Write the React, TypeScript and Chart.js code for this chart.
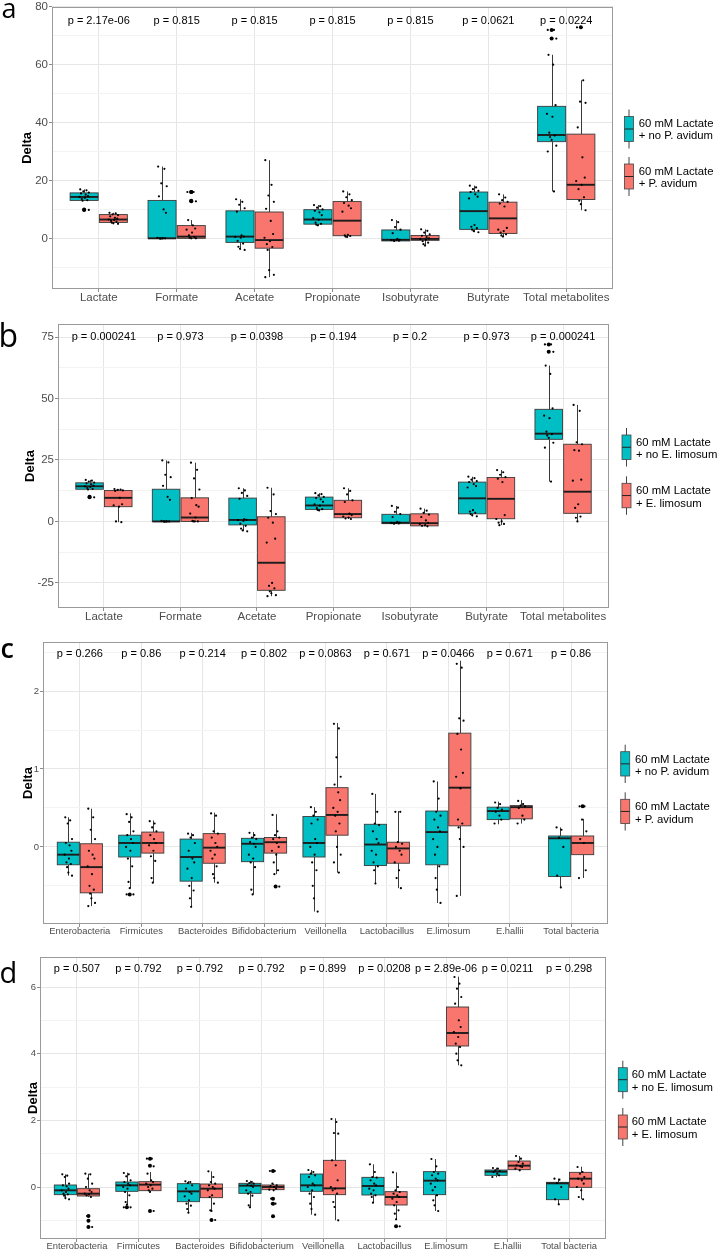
import React, { useEffect, useRef } from 'react';
import { Chart, registerables } from 'chart.js';

Chart.register(...registerables);

const TEAL = '#00BFC4';
const RED = '#F8766D';
const FONT = "'Liberation Sans', Arial, Helvetica, sans-serif";

// ---------- categories ----------
const METAB_CATS = ['Lactate', 'Formate', 'Acetate', 'Propionate', 'Isobutyrate', 'Butyrate', 'Total metabolites'];
const BACT_CATS = ['Enterobacteria', 'Firmicutes', 'Bacteroides', 'Bifidobacterium', 'Veillonella', 'Lactobacillus', 'E.limosum', 'E.hallii', 'Total bacteria'];

// ---------- p-value labels ----------
const P_A = ['p = 2.17e-06', 'p = 0.815', 'p = 0.815', 'p = 0.815', 'p = 0.815', 'p = 0.0621', 'p = 0.0224'];
const P_B = ['p = 0.000241', 'p = 0.973', 'p = 0.0398', 'p = 0.194', 'p = 0.2', 'p = 0.973', 'p = 0.000241'];
const P_C = ['p = 0.266', 'p = 0.86', 'p = 0.214', 'p = 0.802', 'p = 0.0863', 'p = 0.671', 'p = 0.0466', 'p = 0.671', 'p = 0.86'];
const P_D = ['p = 0.507', 'p = 0.792', 'p = 0.792', 'p = 0.792', 'p = 0.899', 'p = 0.0208', 'p = 2.89e-06', 'p = 0.0211', 'p = 0.298'];

// ---------- y ticks ----------
const A_MAJOR = [0, 20, 40, 60, 80];
const A_MINOR = [-10, 10, 30, 50, 70];
const B_MAJOR = [-25, 0, 25, 50, 75];
const B_MINOR = [-12.5, 12.5, 37.5, 62.5];
const C_MAJOR = [0, 1, 2];
const C_MINOR = [-0.5, 0.5, 1.5, 2.5];
const D_MAJOR = [0, 2, 4, 6];
const D_MINOR = [-1, 1, 3, 5];

// ---------- box statistics: [lower whisker, q1, median, q3, upper whisker] ----------
// metabolites, control (60 mM Lactate, no bacterium added) - shared by a and b
const METAB_CTRL_STATS = [
  [13.0, 13.1, 14.3, 15.7, 16.9],
  [0, 0, 0, 13.1, 24.8],
  [-4.0, -1.4, 0.6, 9.5, 13.5],
  [4.5, 4.9, 6.5, 9.9, 11.5],
  [-0.9, -0.9, -0.5, 2.9, 6.3],
  [2.1, 3.1, 9.4, 16.0, 18.2],
  [16.2, 33.4, 35.7, 45.6, 63.4],
];
const METAB_CTRL_OUTLIERS = [[9.8, 10.0], [], [], [], [], [], [69, 72]];
const METAB_CTRL_POINTS = [
  [16.9, 16.6, 16.2, 15.8, 15.5, 15.1, 14.6, 14.3, 14.0, 13.6, 13.2, 13.0, 10.0, 9.8],
  [24.8, 24.0, 19.0, 18.0, 14.5, 10.0, 8.8, 0.2, 0, 0, 0, -0.1, 0],
  [13.5, 12.6, 11.6, 10.4, 9.2, 1.0, 0.6, 0.5, 0.2, -0.9, -1.8, -2.9, -3.6, -4.0],
  [11.5, 11.1, 10.6, 10.0, 9.5, 9.0, 8.0, 7.0, 6.4, 5.4, 5.0, 4.7, 4.5],
  [6.3, 5.6, 3.9, 3.0, 1.8, -0.2, -0.5, -0.6, -0.6, -0.7, -0.8, -0.9],
  [18.2, 17.6, 17.0, 16.4, 16.0, 15.2, 14.4, 13.8, 4.6, 4.0, 3.5, 3.0, 2.5, 2.1],
  [72, 72, 69, 69, 63.4, 60, 46, 43, 42, 36.5, 35.5, 35, 34, 32, 30, 16.2],
];

// metabolites + P. avidum (panel a)
const A_TRT_STATS = [
  [5.0, 5.5, 6.5, 8.2, 8.8],
  [0, 0, 0.6, 4.4, 6.3],
  [-13.4, -3.4, -0.6, 9.1, 27.0],
  [0.5, 0.9, 6.1, 12.7, 16.2],
  [-2.5, -0.7, -0.2, 1.0, 3.1],
  [0.6, 1.7, 6.9, 12.5, 15.2],
  [9.7, 13.4, 18.5, 36.0, 54.6],
];
const A_TRT_OUTLIERS = [[], [12.8, 13.0, 16.0, 16.0], [], [], [], [], [72.9]];
const A_TRT_POINTS = [
  [8.8, 8.6, 8.3, 8.0, 7.6, 7.1, 6.8, 6.5, 6.3, 6.0, 5.7, 5.4, 5.2, 5.0],
  [16.0, 16.0, 13.0, 12.8, 6.3, 4.5, 3.4, 3.0, 2.0, 1.0, 0.5, 0.2, 0, 0],
  [27.0, 18.5, 14.8, 12.6, 10.2, 6.0, 1.5, 0.2, -1.0, -2.0, -3.0, -4.0, -11.0, -12.6, -13.4],
  [16.2, 15.2, 14.2, 13.2, 12.2, 11.3, 10.4, 9.2, 1.2, 1.0, 0.8, 0.6, 0.5],
  [3.1, 2.6, 2.0, 1.4, 0.9, 0.4, 0.0, -0.2, -0.5, -1.0, -1.5, -2.0, -2.5],
  [15.2, 14.1, 13.2, 12.6, 12.0, 11.0, 3.6, 3.0, 2.5, 2.0, 1.4, 1.0, 0.6],
  [72.9, 54.6, 47.2, 46.8, 38.3, 28.0, 21.0, 19.8, 18.5, 17.0, 14.2, 13.0, 11.8, 9.7],
];

// metabolites + E. limosum (panel b)
const B_TRT_STATS = [
  [-0.3, 6.0, 9.6, 12.6, 13.2],
  [0, 0, 1.6, 9.6, 23.9],
  [-30.4, -28.0, -16.8, 1.9, 13.7],
  [1.0, 1.5, 3.0, 8.6, 13.5],
  [-2.0, -1.8, -0.7, 3.1, 5.2],
  [-1.5, 1.1, 9.2, 17.9, 20.9],
  [0, 3.3, 12.1, 31.4, 47.4],
];
const B_TRT_OUTLIERS = [[], [], [], [], [], [], []];
const B_TRT_POINTS = [
  [13.2, 13.0, 12.8, 12.6, 12.4, 9.6, 7.0, 6.5, 6.0, 0.0, -0.3],
  [23.9, 21.0, 17.5, 13.0, 9.5, 6.6, 6.0, 3.2, 1.6, 0.2, 0, 0, 0],
  [13.7, 11.0, 4.2, 3.0, 1.5, -0.5, -7.0, -8.6, -25.0, -26.2, -27.2, -28.4, -29.2, -30.0, -30.4],
  [13.5, 12.4, 11.0, 8.6, 7.9, 3.2, 2.6, 2.0, 1.6, 1.2, 1.0],
  [5.2, 4.4, 3.5, 2.8, 1.8, 0.4, -0.6, -1.0, -1.5, -1.8, -2.0],
  [20.9, 20.0, 19.0, 18.0, 17.4, 16.0, 2.6, 1.0, 0.0, -0.5, -1.0, -1.5],
  [47.4, 45.0, 32.2, 31.4, 29.0, 28.8, 17.0, 16.6, 7.0, 5.5, 2.0, 1.5, 0],
];

// bacteria, control - shared by c and d
const BACT_CTRL_STATS = [
  [-0.37, -0.23, -0.10, 0.06, 0.38],
  [-0.53, -0.13, 0.05, 0.15, 0.43],
  [-0.77, -0.44, -0.13, 0.10, 0.18],
  [-0.61, -0.19, 0.04, 0.11, 0.19],
  [-0.83, -0.13, 0.05, 0.39, 0.51],
  [-0.47, -0.24, 0.03, 0.29, 0.68],
  [-0.72, -0.23, 0.19, 0.46, 0.84],
  [0.29, 0.35, 0.46, 0.51, 0.58],
  [-0.52, -0.38, 0.11, 0.14, 0.25],
];
const BACT_CTRL_OUTLIERS = [[], [-0.61], [], [], [], [], [], [], []];
const BACT_CTRL_POINTS = [
  [0.38, 0.34, 0.30, 0.10, 0.05, 0.02, -0.05, -0.10, -0.15, -0.20, -0.22, -0.26, -0.33, -0.37],
  [0.42, 0.38, 0.32, 0.20, 0.15, 0.10, 0.05, 0.0, -0.05, -0.15, -0.25, -0.45, -0.53, -0.61, -0.61],
  [0.17, 0.15, 0.12, 0.05, -0.05, -0.15, -0.20, -0.28, -0.40, -0.50, -0.56, -0.66, -0.77],
  [0.18, 0.15, 0.12, 0.10, 0.06, 0.04, 0.0, -0.10, -0.15, -0.20, -0.26, -0.55, -0.61],
  [0.51, 0.45, 0.40, 0.35, 0.30, 0.10, 0.05, 0.0, -0.10, -0.20, -0.30, -0.50, -0.66, -0.83],
  [0.68, 0.45, 0.30, 0.28, 0.20, 0.10, 0.05, -0.05, -0.10, -0.20, -0.25, -0.30, -0.47],
  [0.84, 0.62, 0.45, 0.40, 0.35, 0.25, 0.20, 0.10, 0.0, -0.10, -0.25, -0.40, -0.55, -0.72],
  [0.57, 0.55, 0.50, 0.48, 0.45, 0.40, 0.35, 0.30],
  [0.25, 0.22, 0.12, 0.0, -0.37, -0.52],
];

// bacteria + P. avidum (panel c)
const C_TRT_STATS = [
  [-0.76, -0.59, -0.26, 0.04, 0.49],
  [-0.46, -0.08, 0.05, 0.19, 0.34],
  [-0.46, -0.21, -0.01, 0.17, 0.44],
  [-0.35, -0.08, 0.06, 0.12, 0.42],
  [-0.33, 0.15, 0.41, 0.76, 1.59],
  [-0.53, -0.21, -0.02, 0.06, 0.46],
  [-0.63, 0.27, 0.76, 1.46, 2.39],
  [0.30, 0.36, 0.51, 0.53, 0.60],
  [-0.40, -0.10, 0.05, 0.14, 0.36],
];
const C_TRT_OUTLIERS = [[], [], [], [-0.51], [], [], [], [], [0.52]];
const C_TRT_POINTS = [
  [0.49, 0.38, 0.22, 0.10, -0.05, -0.10, -0.15, -0.25, -0.35, -0.50, -0.55, -0.60, -0.66, -0.72, -0.76],
  [0.33, 0.30, 0.25, 0.20, 0.15, 0.10, 0.05, 0.02, -0.05, -0.12, -0.18, -0.40, -0.46],
  [0.43, 0.40, 0.20, 0.17, 0.12, 0.05, 0.0, -0.05, -0.10, -0.15, -0.25, -0.35, -0.40, -0.46],
  [0.41, 0.20, 0.15, 0.12, 0.10, 0.05, 0.0, -0.05, -0.10, -0.20, -0.30, -0.35, -0.51, -0.51],
  [1.58, 1.52, 1.15, 0.90, 0.80, 0.70, 0.60, 0.50, 0.45, 0.40, 0.30, 0.20, 0.0, -0.10, -0.20, -0.33],
  [0.45, 0.45, 0.06, 0.04, 0.0, -0.05, -0.10, -0.20, -0.30, -0.40, -0.53],
  [2.35, 2.30, 1.65, 1.62, 1.45, 1.25, 0.95, 0.90, 0.75, 0.35, 0.30, 0.25, 0.10, 0.0, -0.63],
  [0.59, 0.55, 0.53, 0.52, 0.50, 0.40, 0.35, 0.30],
  [0.52, 0.52, 0.35, 0.20, 0.10, 0.05, -0.30, -0.40],
];

// bacteria + E. limosum (panel d)
const D_TRT_STATS = [
  [-0.30, -0.27, -0.20, -0.05, 0.40],
  [-0.15, -0.11, 0.07, 0.16, 0.45],
  [-0.72, -0.32, -0.05, 0.09, 0.47],
  [-0.12, -0.08, 0.0, 0.06, 0.10],
  [-1.0, -0.23, -0.04, 0.80, 2.06],
  [-0.97, -0.54, -0.30, -0.14, 0.44],
  [3.65, 4.23, 4.62, 5.40, 6.31],
  [0.50, 0.52, 0.64, 0.78, 0.93],
  [-0.37, -0.01, 0.25, 0.44, 0.61],
];
const D_TRT_OUTLIERS = [[-0.87, -1.01, -1.20], [0.85, 0.64, -0.72], [-0.99], [0.48, -0.35, -0.50, -0.88], [], [-1.18], [], [], []];
const D_TRT_POINTS = [
  [0.40, 0.38, 0.25, 0.10, 0.0, -0.10, -0.15, -0.20, -0.22, -0.25, -0.30, -0.87, -1.01, -1.20],
  [0.85, 0.85, 0.64, 0.62, 0.40, 0.20, 0.15, 0.10, 0.05, 0.0, -0.05, -0.10, -0.15, -0.72],
  [0.47, 0.30, 0.15, 0.10, 0.05, 0.0, -0.05, -0.10, -0.25, -0.30, -0.50, -0.70, -0.72, -0.99],
  [0.48, 0.48, 0.10, 0.05, 0.03, 0.0, -0.05, -0.08, -0.10, -0.35, -0.50, -0.50, -0.88],
  [2.04, 1.95, 1.62, 1.60, 0.80, 0.65, 0.20, 0.0, -0.05, -0.10, -0.20, -0.45, -0.60, -1.0],
  [0.44, 0.0, -0.10, -0.15, -0.20, -0.25, -0.30, -0.35, -0.45, -0.55, -0.70, -0.80, -0.97, -1.18],
  [6.30, 6.10, 5.95, 5.70, 5.50, 5.00, 4.80, 4.65, 4.50, 4.30, 4.20, 4.00, 3.80, 3.65],
  [0.93, 0.85, 0.75, 0.70, 0.65, 0.62, 0.60, 0.55, 0.50],
  [0.60, 0.45, 0.40, 0.30, 0.25, 0.20, 0.10, 0.0, -0.10, -0.30, -0.37],
];

const LEGEND_PA = [['60 mM Lactate', '+ no P. avidum'], ['60 mM Lactate', '+ P. avidum']];
const LEGEND_EL = [['60 mM Lactate', '+ no E. limosum'], ['60 mM Lactate', '+ E. limosum']];

// ---------- drawing constants (style, not data) ----------
const GROUP_SHIFT = 0.1875;
const BOX_HALF = 0.18;
const JITTER = [-0.05, 0.03, -0.01, 0.06, -0.04, 0.02, 0.05, -0.06, 0.01, -0.03, 0.04, -0.02, 0.0, 0.06, -0.05, 0.03, -0.04];

type Group = { stats: number[][]; points: number[][]; outliers: number[][] };
type PanelCfg = {
  key: string;
  top: number;
  height: number;
  area: { left: number; right: number; top: number; bottom: number };
  cats: string[];
  pLabels: string[];
  pY: number;
  yMin: number;
  yMax: number;
  major: number[];
  minor: number[];
  ctrl: Group;
  trt: Group;
  tickSize: number;
  catSize: number;
  deltaX: number;
};

const PANELS: PanelCfg[] = [
  {
    key: 'a', top: 0, height: 311,
    area: { left: 52, right: 613, top: 5, bottom: 289 },
    cats: METAB_CATS, pLabels: P_A, pY: 75.2, yMin: -17.5, yMax: 80,
    major: A_MAJOR, minor: A_MINOR,
    ctrl: { stats: METAB_CTRL_STATS, points: METAB_CTRL_POINTS, outliers: METAB_CTRL_OUTLIERS },
    trt: { stats: A_TRT_STATS, points: A_TRT_POINTS, outliers: A_TRT_OUTLIERS },
    tickSize: 11.5, catSize: 11.5, deltaX: 27.5,
  },
  {
    key: 'b', top: 311, height: 320,
    area: { left: 58, right: 609, top: 13, bottom: 297 },
    cats: METAB_CATS, pLabels: P_B, pY: 75, yMin: -35.2, yMax: 80.3,
    major: B_MAJOR, minor: B_MINOR,
    ctrl: { stats: METAB_CTRL_STATS, points: METAB_CTRL_POINTS, outliers: METAB_CTRL_OUTLIERS },
    trt: { stats: B_TRT_STATS, points: B_TRT_POINTS, outliers: B_TRT_OUTLIERS },
    tickSize: 11.5, catSize: 11.5, deltaX: 30,
  },
  {
    key: 'c', top: 631, height: 320,
    area: { left: 43, right: 608, top: 11, bottom: 293 },
    cats: BACT_CATS, pLabels: P_C, pY: 2.47, yMin: -0.99, yMax: 2.63,
    major: C_MAJOR, minor: C_MINOR,
    ctrl: { stats: BACT_CTRL_STATS, points: BACT_CTRL_POINTS, outliers: BACT_CTRL_OUTLIERS },
    trt: { stats: C_TRT_STATS, points: C_TRT_POINTS, outliers: C_TRT_OUTLIERS },
    tickSize: 9.5, catSize: 9.4, deltaX: 28,
  },
  {
    key: 'd', top: 951, height: 300,
    area: { left: 40, right: 606, top: 6, bottom: 288 },
    cats: BACT_CATS, pLabels: P_D, pY: 6.53, yMin: -1.56, yMax: 6.9,
    major: D_MAJOR, minor: D_MINOR,
    ctrl: { stats: BACT_CTRL_STATS, points: BACT_CTRL_POINTS, outliers: BACT_CTRL_OUTLIERS },
    trt: { stats: D_TRT_STATS, points: D_TRT_POINTS, outliers: D_TRT_OUTLIERS },
    tickSize: 9.5, catSize: 9.4, deltaX: 33,
  },
];

function buildPoints(g: Group, side: number) {
  const out: { x: number; y: number }[] = [];
  g.points.forEach((vals, i) =>
    vals.forEach((v, k) => out.push({ x: i + 1 + side * GROUP_SHIFT + JITTER[k % JITTER.length], y: v }))
  );
  return out;
}

function buildOutliers(g: Group, side: number) {
  const out: { x: number; y: number }[] = [];
  g.outliers.forEach((vals, i) => vals.forEach((v) => out.push({ x: i + 1 + side * GROUP_SHIFT, y: v })));
  return out;
}

function makePlugin(cfg: PanelCfg) {
  return {
    id: 'boxplot_' + cfg.key,
    beforeDatasetsDraw(chart: any) {
      const { ctx } = chart;
      const x = chart.scales.x;
      const y = chart.scales.y;
      ctx.save();
      [cfg.ctrl, cfg.trt].forEach((g, gi) => {
        const side = gi === 0 ? -1 : 1;
        const color = gi === 0 ? TEAL : RED;
        g.stats.forEach((s, i) => {
          const [lo, q1, med, q3, hi] = s;
          const c = i + 1 + side * GROUP_SHIFT;
          const cx = Math.round(x.getPixelForValue(c)) + 0.5;
          const xl = x.getPixelForValue(c - BOX_HALF);
          const xr = x.getPixelForValue(c + BOX_HALF);
          const yHi = y.getPixelForValue(hi);
          const yQ3 = y.getPixelForValue(q3);
          const yMed = y.getPixelForValue(med);
          const yQ1 = y.getPixelForValue(q1);
          const yLo = y.getPixelForValue(lo);
          ctx.strokeStyle = '#3a3a3a';
          ctx.lineWidth = 1;
          ctx.beginPath();
          ctx.moveTo(cx, yHi);
          ctx.lineTo(cx, yQ3);
          ctx.moveTo(cx, yQ1);
          ctx.lineTo(cx, yLo);
          ctx.stroke();
          ctx.fillStyle = color;
          ctx.fillRect(xl, yQ3, xr - xl, yQ1 - yQ3);
          ctx.strokeStyle = '#3a3a3a';
          ctx.lineWidth = 0.9;
          ctx.strokeRect(xl, yQ3, xr - xl, yQ1 - yQ3);
          ctx.strokeStyle = '#1c1c1c';
          ctx.lineWidth = 1.9;
          ctx.beginPath();
          ctx.moveTo(xl, yMed);
          ctx.lineTo(xr, yMed);
          ctx.stroke();
        });
      });
      ctx.restore();
    },
    afterDatasetsDraw(chart: any) {
      const { ctx, chartArea } = chart;
      const x = chart.scales.x;
      const y = chart.scales.y;
      ctx.save();
      // panel border
      ctx.strokeStyle = '#9a9a9a';
      ctx.lineWidth = 1;
      ctx.strokeRect(
        Math.round(chartArea.left) + 0.5,
        Math.round(chartArea.top) + 0.5,
        Math.round(chartArea.right - chartArea.left) - 1,
        Math.round(chartArea.bottom - chartArea.top) - 1
      );
      // p-values
      ctx.fillStyle = '#000';
      ctx.font = `11px ${FONT}`;
      ctx.textAlign = 'center';
      ctx.textBaseline = 'middle';
      const py = y.getPixelForValue(cfg.pY);
      cfg.pLabels.forEach((t, i) => {
        ctx.fillText(t, x.getPixelForValue(i + 1), py);
      });
      // y title
      ctx.font = `bold 13px ${FONT}`;
      ctx.translate(cfg.deltaX, (chartArea.top + chartArea.bottom) / 2);
      ctx.rotate(-Math.PI / 2);
      ctx.fillText('Delta', 0, 0);
      ctx.restore();
    },
  };
}

function Panel({ cfg }: { cfg: PanelCfg }) {
  const ref = useRef<HTMLCanvasElement>(null);
  useEffect(() => {
    if (!ref.current) return;
    const isMajor = (v: number) => cfg.major.some((m) => Math.abs(m - v) < 1e-9);
    const allTicks = [...cfg.major, ...cfg.minor].sort((a, b) => a - b);
    const chart = new Chart(ref.current, {
      type: 'scatter',
      data: {
        datasets: [
          {
            label: 'points',
            data: [...buildPoints(cfg.ctrl, -1), ...buildPoints(cfg.trt, 1)],
            pointRadius: 1.1,
            pointBackgroundColor: '#000',
            pointBorderWidth: 0,
            pointHoverRadius: 1.1,
          },
          {
            label: 'outliers',
            data: [...buildOutliers(cfg.ctrl, -1), ...buildOutliers(cfg.trt, 1)],
            pointRadius: 2,
            pointBackgroundColor: '#000',
            pointBorderWidth: 0,
            pointHoverRadius: 2,
          },
        ],
      },
      options: {
        animation: false,
        responsive: false,
        devicePixelRatio: 1,
        events: [],
        layout: {
          padding: { top: cfg.area.top, left: 0, right: 721 - cfg.area.right, bottom: 0 },
        },
        plugins: { legend: { display: false }, tooltip: { enabled: false } },
        scales: {
          x: {
            type: 'linear',
            min: 0.4,
            max: cfg.cats.length + 0.6,
            offset: false,
            afterBuildTicks: (s: any) => {
              s.ticks = cfg.cats.map((_, i) => ({ value: i + 1 }));
            },
            afterFit: (s: any) => {
              s.height = cfg.height - cfg.area.bottom;
            },
            ticks: {
              autoSkip: false,
              maxRotation: 0,
              minRotation: 0,
              padding: 0,
              color: '#4d4d4d',
              font: { family: FONT, size: cfg.catSize, lineHeight: 1 },
              callback: (v: any) => cfg.cats[Math.round(Number(v)) - 1] ?? '',
            },
            grid: {
              color: '#e6e6e6',
              lineWidth: 1,
              drawTicks: true,
              tickLength: 3,
              tickColor: '#8c8c8c',
            },
            border: { display: false },
          },
          y: {
            type: 'linear',
            min: cfg.yMin,
            max: cfg.yMax,
            afterBuildTicks: (s: any) => {
              s.ticks = allTicks.map((v) => ({ value: v }));
            },
            afterFit: (s: any) => {
              s.width = cfg.area.left;
            },
            ticks: {
              autoSkip: false,
              padding: 1,
              color: '#4d4d4d',
              font: { family: FONT, size: cfg.tickSize, lineHeight: 1 },
              callback: (v: any) => (isMajor(Number(v)) ? String(v) : ''),
            },
            grid: {
              color: (c: any) => (c.tick && isMajor(c.tick.value) ? '#e6e6e6' : '#f3f3f3'),
              lineWidth: 1,
              drawTicks: true,
              tickLength: 3,
              tickColor: (c: any) => (c.tick && isMajor(c.tick.value) ? '#8c8c8c' : 'rgba(0,0,0,0)'),
            },
            border: { display: false },
          },
        },
      },
      plugins: [makePlugin(cfg)],
    } as any);
    return () => chart.destroy();
  }, [cfg]);
  return (
    <canvas
      ref={ref}
      width={721}
      height={cfg.height}
      style={{ position: 'absolute', left: 0, top: cfg.top, width: 721, height: cfg.height, display: 'block' }}
    />
  );
}

type LegendCfg = { keyLeft: number; keyTops: number[]; keyH: number; textX: number; baselines: number[][]; labels: string[][] };

const LEGENDS: LegendCfg[] = [
  { keyLeft: 624.5, keyTops: [116.5, 164], keyH: 25, textX: 638.7, baselines: [[126.7, 139.3], [175, 187.4]], labels: LEGEND_PA },
  { keyLeft: 622, keyTops: [435, 483.3], keyH: 24.5, textX: 636, baselines: [[446, 458.3], [494, 506.5]], labels: LEGEND_EL },
  { keyLeft: 620.7, keyTops: [751.7, 799.3], keyH: 24.3, textX: 635, baselines: [[762.7, 775.2], [810, 822.5]], labels: LEGEND_PA },
  { keyLeft: 618.3, keyTops: [1067.7, 1115], keyH: 24, textX: 631.7, baselines: [[1078.3, 1090.5], [1125, 1137.5]], labels: LEGEND_EL },
];

const LETTERS = [
  { t: 'a', x: 1.5, y: 17.5, size: 27, weight: 400 },
  { t: 'b', x: -1.5, y: 347, size: 32, weight: 400 },
  { t: 'c', x: 0.5, y: 657.5, size: 27, weight: 600 },
  { t: 'd', x: -0.5, y: 982.5, size: 29, weight: 400 },
];

function Overlay() {
  const keyW = 9;
  return (
    <svg
      width={721}
      height={1251}
      style={{ position: 'absolute', left: 0, top: 0, pointerEvents: 'none' }}
    >
      {LETTERS.map((l) => (
        <text key={l.t} x={l.x} y={l.y} fontFamily="'Open Sans', 'DejaVu Sans', sans-serif" fontSize={l.size} fontWeight={l.weight} fill="#000">
          {l.t}
        </text>
      ))}
      {LEGENDS.map((lg, li) =>
        lg.keyTops.map((kt, j) => {
          const cx = lg.keyLeft + keyW / 2;
          return (
            <g key={`${li}-${j}`}>
              <line x1={cx} x2={cx} y1={kt - 7} y2={kt + lg.keyH + 7} stroke="#444" strokeWidth={1} />
              <rect x={lg.keyLeft} y={kt} width={keyW} height={lg.keyH} fill={j === 0 ? TEAL : RED} stroke="#444" strokeWidth={0.8} />
              <line x1={lg.keyLeft} x2={lg.keyLeft + keyW} y1={kt + lg.keyH / 2} y2={kt + lg.keyH / 2} stroke="#222" strokeWidth={1} />
              {lg.labels[j].map((s, k) => (
                <text key={k} x={lg.textX} y={lg.baselines[j][k]} fontFamily={FONT} fontSize={11.3} fill="#000">
                  {s}
                </text>
              ))}
            </g>
          );
        })
      )}
    </svg>
  );
}

export default function App() {
  return (
    <div style={{ position: 'absolute', left: 0, top: 0, width: 721, height: 1251, background: '#fff', overflow: 'hidden' }}>
      {PANELS.map((p) => (
        <Panel key={p.key} cfg={p} />
      ))}
      <Overlay />
    </div>
  );
}
